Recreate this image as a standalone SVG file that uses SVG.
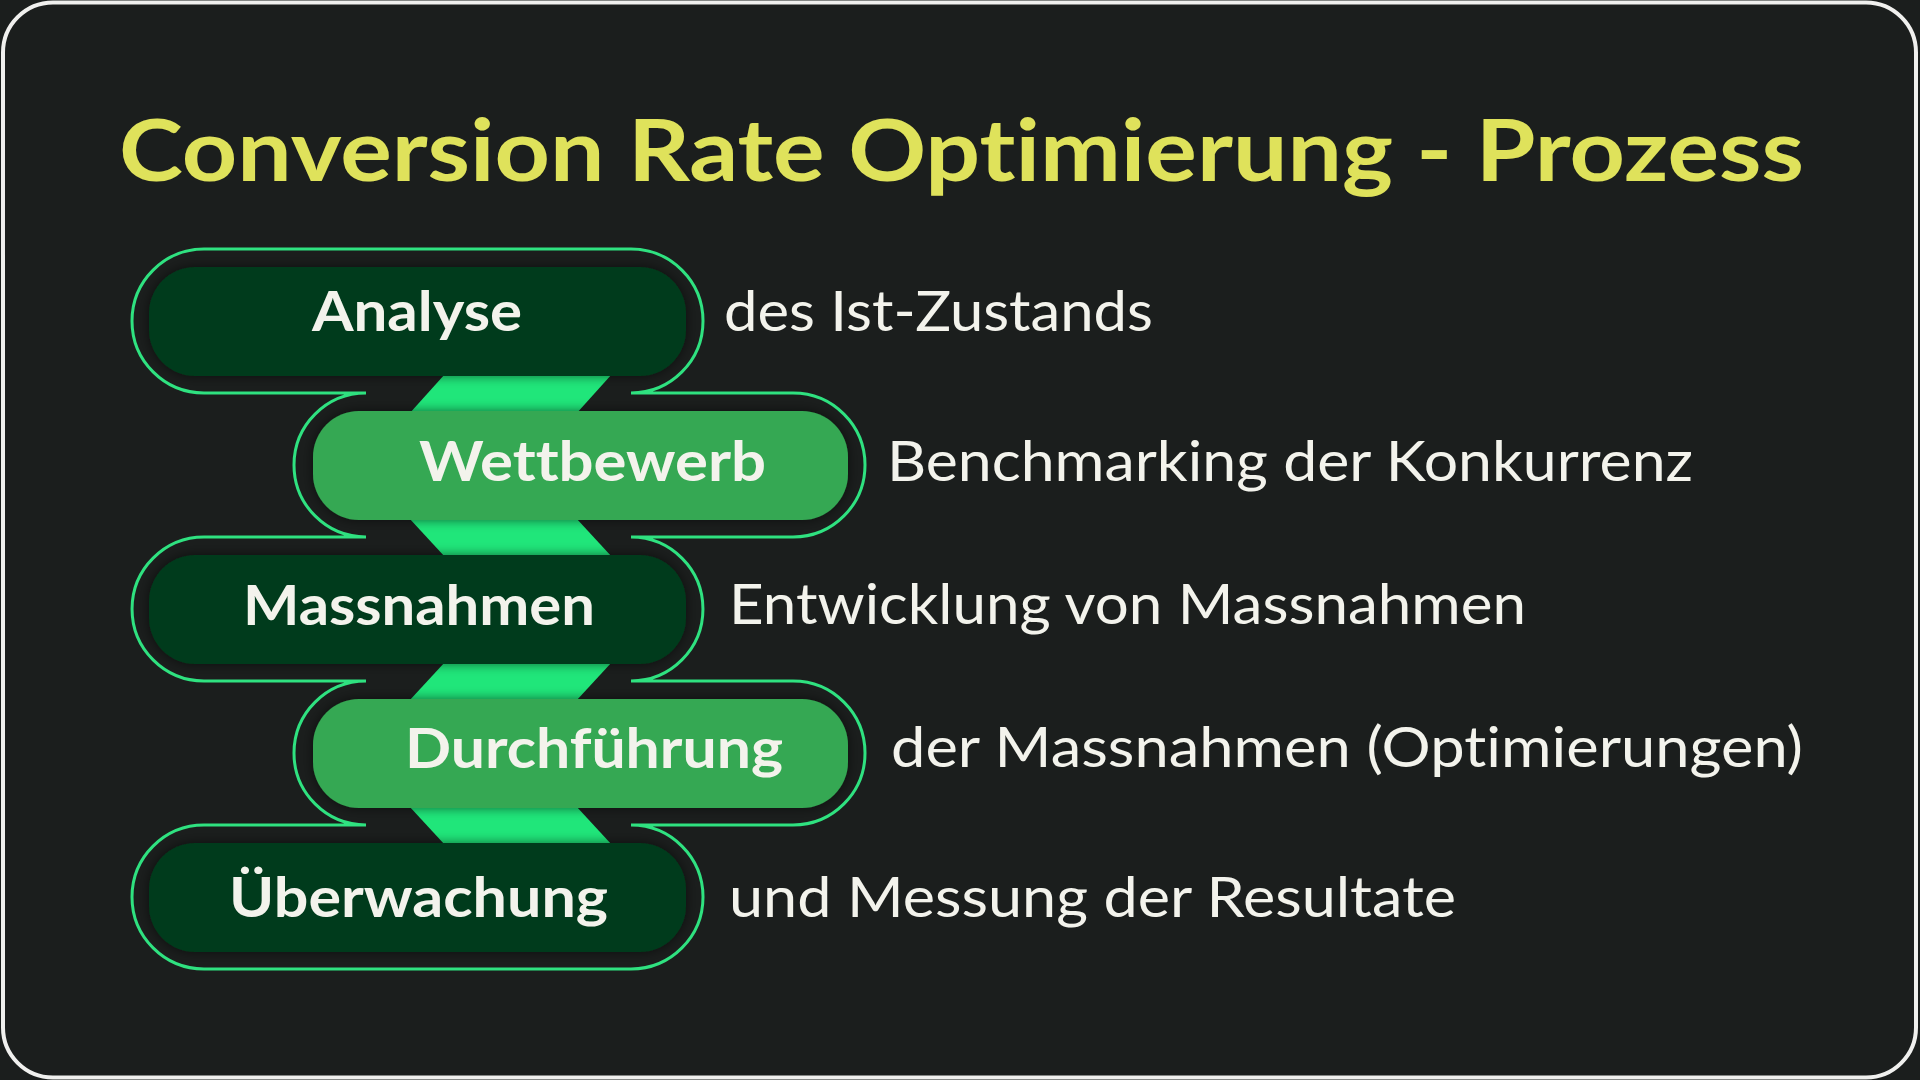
<svg xmlns="http://www.w3.org/2000/svg" width="1920" height="1080" viewBox="0 0 1920 1080">
  <defs>
    <style>
      text { font-variant-ligatures: none; font-feature-settings: "liga" 0, "clig" 0, "dlig" 0; }
      .title { font-family: Lato, "Noto Sans", "DejaVu Sans", sans-serif; font-weight: 700; font-size: 86px; fill: #dfe25b; }
      .lbl { font-family: Lato, "Noto Sans", "DejaVu Sans", sans-serif; font-weight: 700; font-size: 56px; fill: #f3f3ec; }
      .desc { font-family: Lato, "Noto Sans", "DejaVu Sans", sans-serif; font-weight: 400; font-size: 57px; fill: #f3f3ec; }
      .pill-dark { fill: #023a1b; }
      .pill-mid { fill: #34a853; }
      .conn { fill: #20e67a; }
      .outline { fill: none; stroke: #2fe280; stroke-width: 3; }
    </style>
    <filter id="sh" x="-10%" y="-30%" width="120%" height="160%">
      <feGaussianBlur in="SourceAlpha" stdDeviation="6"/>
      <feComponentTransfer><feFuncA type="linear" slope="0.55"/></feComponentTransfer>
      <feMerge><feMergeNode/><feMergeNode in="SourceGraphic"/></feMerge>
    </filter>
  </defs>

  <rect x="0" y="0" width="1920" height="1080" fill="#1b1e1d"/>
  <rect x="3" y="2.5" width="1913" height="1075" rx="50" ry="50" fill="#1b1e1d" stroke="#f0f0ee" stroke-width="4"/>

  <text class="title" x="119" y="181" textLength="1685" lengthAdjust="spacingAndGlyphs">Conversion Rate Optimierung - Prozess</text>

  <g id="outline">
    <path class="outline" d="M 204 249 H 631 A 72 72 0 0 1 631 393 H 793 A 72 72 0 0 1 793 537 H 631 A 72 72 0 0 1 631 681 H 793 A 72 72 0 0 1 793 825 H 631 A 72 72 0 0 1 631 969 H 204 A 72 72 0 0 1 204 825 H 366 A 72 72 0 0 1 366 681 H 204 A 72 72 0 0 1 204 537 H 366 A 72 72 0 0 1 366 393 H 204 A 72 72 0 0 1 204 249 Z"/>
  </g>

  <g id="connectors">
    <polygon class="conn" points="445,374 612,374 576,414 409,414"/>
    <polygon class="conn" points="409,518 576,518 612,557 445,557"/>
    <polygon class="conn" points="445,662 612,662 576,701 409,701"/>
    <polygon class="conn" points="409,806 576,806 612,845 445,845"/>
  </g>

  <g id="node-analyse">
    <rect class="pill-dark" x="149" y="267" width="537" height="109" rx="46" filter="url(#sh)"/>
    <text class="lbl" x="312" y="331" textLength="210" lengthAdjust="spacingAndGlyphs">Analyse</text>
    <text class="desc" x="724" y="331" textLength="429" lengthAdjust="spacingAndGlyphs">des Ist-Zustands</text>
  </g>

  <g id="node-wettbewerb">
    <rect class="pill-mid" x="313" y="411" width="535" height="109" rx="46" filter="url(#sh)"/>
    <text class="lbl" x="419" y="481" textLength="347" lengthAdjust="spacingAndGlyphs">Wettbewerb</text>
    <text class="desc" x="887" y="481" textLength="806" lengthAdjust="spacingAndGlyphs">Benchmarking der Konkurrenz</text>
  </g>

  <g id="node-massnahmen">
    <rect class="pill-dark" x="149" y="555" width="537" height="109" rx="46" filter="url(#sh)"/>
    <text class="lbl" x="243" y="625" textLength="352" lengthAdjust="spacingAndGlyphs">Massnahmen</text>
    <text class="desc" x="729" y="624" textLength="797" lengthAdjust="spacingAndGlyphs">Entwicklung von Massnahmen</text>
  </g>

  <g id="node-durchfuehrung">
    <rect class="pill-mid" x="313" y="699" width="535" height="109" rx="46" filter="url(#sh)"/>
    <text class="lbl" x="405" y="768" textLength="378" lengthAdjust="spacingAndGlyphs">Durchführung</text>
    <text class="desc" x="891" y="767" textLength="912" lengthAdjust="spacingAndGlyphs">der Massnahmen (Optimierungen)</text>
  </g>

  <g id="node-ueberwachung">
    <rect class="pill-dark" x="149" y="843" width="537" height="109" rx="46" filter="url(#sh)"/>
    <text class="lbl" x="229" y="917" textLength="379" lengthAdjust="spacingAndGlyphs">Überwachung</text>
    <text class="desc" x="729" y="917" textLength="727" lengthAdjust="spacingAndGlyphs">und Messung der Resultate</text>
  </g>
</svg>
